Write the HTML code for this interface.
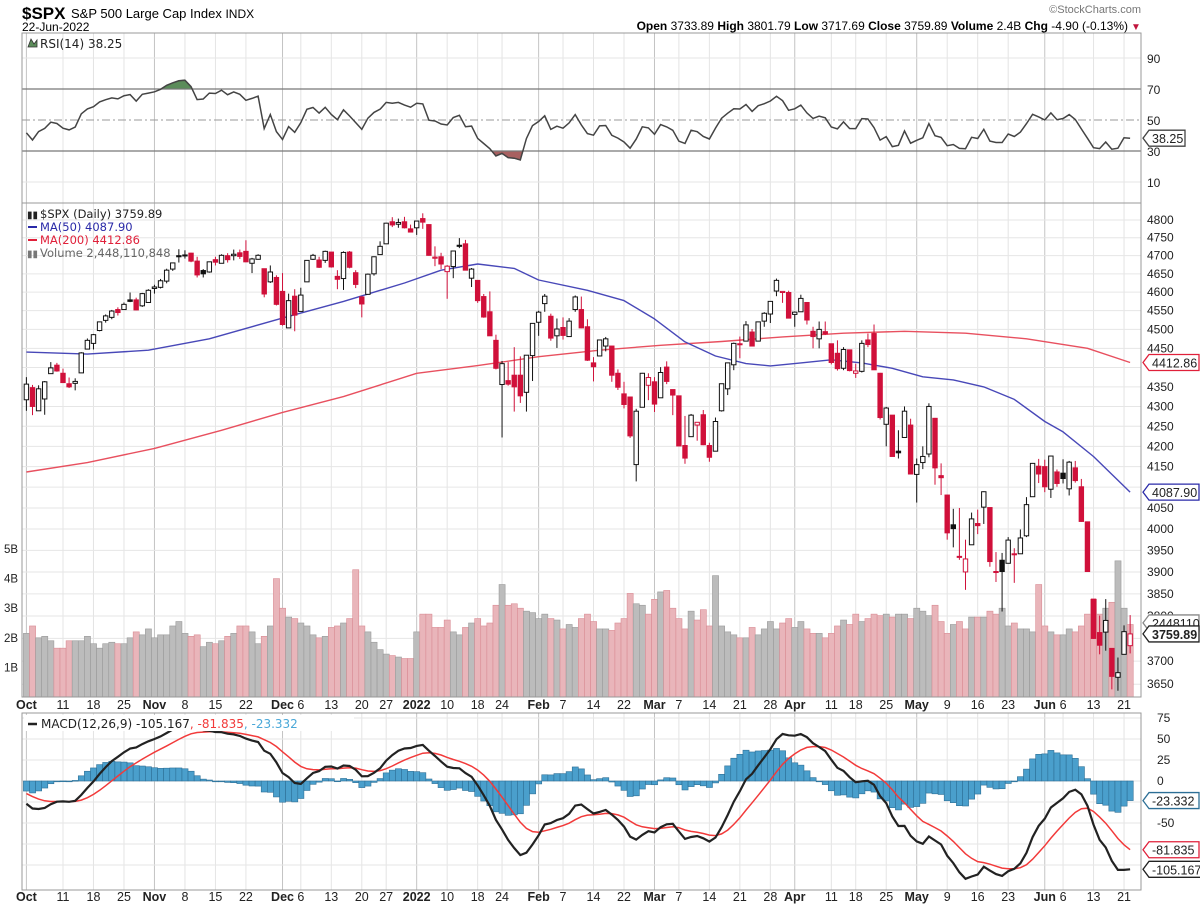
<!DOCTYPE html>
<html><head><meta charset="utf-8">
<style>
html,body{margin:0;padding:0;background:#fff;}
svg{display:block;font-family:"Liberation Sans",Arial,sans-serif;}
.mono{font-family:"DejaVu Sans","Liberation Sans",sans-serif;}
</style></head>
<body>
<svg id="chart" width="1200" height="908" viewBox="0 0 1200 908" xmlns="http://www.w3.org/2000/svg">
  <g>
    <text x="22" y="19" font-size="17" font-weight="bold">$SPX</text>
    <text x="71" y="18" font-size="13">S&amp;P 500 Large Cap Index <tspan font-size="12">INDX</tspan></text>
    <text x="22" y="31" font-size="12">22-Jun-2022</text>
    <text x="1141" y="13" font-size="11" fill="#777" text-anchor="end">©StockCharts.com</text>
    <text x="1128" y="30" font-size="12" text-anchor="end"><tspan font-weight="bold">Open</tspan> 3733.89 <tspan font-weight="bold">High</tspan> 3801.79 <tspan font-weight="bold">Low</tspan> 3717.69 <tspan font-weight="bold">Close</tspan> 3759.89 <tspan font-weight="bold">Volume</tspan> 2.4B <tspan font-weight="bold">Chg</tspan> -4.90 (-0.13%)</text>
    <text x="1131" y="30" font-size="10" fill="#c0143c">▼</text>
  </g>
  <g id="grid"></g>
  <g id="rsi"></g>
  <g id="price"></g>
  <g id="macd"></g>
  <g id="axes"></g>
</svg>
<script>
// ---------- DATA ----------
const prevClose = 4308;
const closes = [
4357,4300,4345,4363,4399,4391,4361,4350,4364,4438,4471,4486,4520,4536,4549,4545,4567,4575,4552,4596,4605,
4614,4631,4660,4680,4697,4702,4685,4647,4650,4683,4682,4701,4689,4704,4698,4683,4691,4701,4595,4655,4567,
4513,4577,4538,4592,4687,4701,4668,4712,4669,4635,4709,4668,4621,4568,4649,4697,4726,4791,4786,4793,4778,4766,
4797,4794,4701,4696,4677,4671,4713,4726,4660,4663,4577,4533,4483,4398,4410,4357,4350,4327,4432,4516,
4546,4589,4477,4501,4484,4522,4587,4504,4419,4402,4472,4475,4380,4349,4305,4226,4288,4385,4374,
4306,4387,4364,4329,4201,4171,4278,4260,4204,4173,4262,4358,4412,4463,4461,4512,4456,4520,4543,4575,4632,4602,4530,
4546,4583,4525,4481,4500,4488,4413,4397,4447,4392,4391,4463,4460,4394,4272,4296,4175,4184,4288,4132,
4155,4175,4300,4147,4123,3991,4001,3935,3930,4024,4008,4089,3924,3901,3901,3974,3941,3979,4058,4158,4132,
4101,4176,4109,4121,4161,4116,4018,3901,3750,3735,3790,3667,3675,3765,3760];
const opens = [
4317,4348,4289,4319,4384,4406,4385,4358,4359,4386,4448,4463,4497,4524,4532,4553,4553,4579,4579,4563,4572,
4610,4613,4630,4663,4700,4701,4707,4685,4659,4655,4689,4679,4700,4700,4708,4712,4679,4690,4664,4628,4640,
4602,4504,4589,4548,4628,4690,4688,4687,4710,4643,4637,4710,4653,4587,4594,4650,4703,4733,4795,4788,4795,4775,
4778,4804,4787,4693,4697,4656,4670,4729,4733,4638,4632,4588,4547,4471,4356,4366,4380,4380,4336,4431,
4519,4569,4535,4483,4505,4481,4553,4553,4507,4412,4430,4456,4456,4385,4332,4324,4155,4298,4354,
4363,4322,4401,4343,4327,4202,4224,4253,4279,4202,4188,4289,4345,4407,4462,4469,4493,4469,4522,4541,4603,4599,4599,
4540,4547,4572,4495,4475,4494,4462,4437,4398,4446,4385,4390,4472,4489,4385,4255,4278,4188,4222,4253,
4131,4160,4181,4270,4128,4081,4010,3936,3900,3963,4013,4052,4051,3900,3927,3920,3942,3942,3984,4077,4151,
4150,4095,4137,4134,4096,4147,4101,4017,3838,3763,3764,3728,3665,3715,3734];
const highs = [
4375,4355,4354,4365,4414,4412,4397,4374,4372,4440,4476,4488,4520,4540,4552,4559,4572,4599,4585,4598,4608,
4620,4636,4664,4681,4718,4715,4708,4697,4663,4684,4697,4704,4707,4717,4717,4743,4694,4704,4664,4673,4646,
4652,4596,4608,4612,4688,4705,4697,4714,4710,4660,4712,4713,4660,4589,4651,4698,4740,4792,4808,4804,4809,4787,
4797,4819,4788,4726,4708,4674,4714,4749,4744,4666,4632,4595,4602,4486,4417,4414,4453,4429,4432,4517,
4550,4595,4542,4529,4532,4530,4591,4588,4527,4427,4473,4480,4456,4395,4363,4324,4294,4386,4385,
4375,4401,4416,4343,4327,4276,4281,4259,4291,4209,4272,4358,4412,4465,4481,4522,4501,4520,4546,4575,4637,4603,4604,
4548,4593,4572,4507,4521,4521,4462,4471,4453,4446,4410,4471,4489,4513,4386,4299,4278,4240,4300,4269,
4170,4200,4308,4271,4158,4082,4048,4050,3975,4039,4046,4090,4046,3946,3944,3981,3955,3999,4076,4159,4169,
4167,4177,4143,4168,4164,4164,4120,4017,3838,3801,3838,3728,3708,3779,3802];
const lows = [
4289,4278,4289,4279,4384,4389,4360,4347,4341,4386,4447,4447,4495,4518,4527,4537,4553,4573,4551,4560,4572,
4596,4610,4624,4658,4681,4692,4682,4640,4640,4653,4673,4679,4681,4687,4691,4682,4652,4689,4586,4625,4564,
4510,4504,4495,4548,4628,4688,4666,4680,4667,4608,4606,4665,4611,4532,4594,4645,4703,4733,4780,4778,4776,4765,
4758,4775,4700,4671,4663,4582,4638,4721,4660,4614,4571,4531,4483,4395,4222,4353,4287,4309,4287,4365,
4483,4547,4470,4451,4473,4481,4547,4503,4417,4364,4430,4442,4363,4342,4295,4221,4114,4298,4316,
4286,4322,4357,4278,4200,4157,4224,4214,4203,4162,4188,4287,4329,4393,4424,4469,4455,4469,4507,4517,4589,4571,4530,
4507,4547,4513,4450,4450,4485,4408,4392,4393,4390,4373,4387,4453,4394,4267,4200,4175,4170,4222,4132,
4063,4144,4173,4106,4081,3975,3957,3928,3859,3963,3988,4012,3912,3877,3810,3920,3875,3943,3981,4077,4110,
4088,4074,4101,4109,4080,4111,4017,3901,3749,3715,3723,3639,3636,3715,3717];
const volumes = [
2.15,2.4,2.0,2.05,1.9,1.65,1.65,1.9,1.9,1.9,2.05,1.8,1.65,1.8,1.85,1.8,1.8,2.0,2.2,2.1,2.3,
2.0,2.1,2.1,2.4,2.55,2.15,2.05,2.1,1.7,1.85,1.8,1.9,2.05,2.15,2.4,2.4,2.2,1.8,2.05,2.4,4.0,
3.0,2.7,2.65,2.5,2.4,2.1,2.0,2.05,2.35,2.4,2.5,2.65,4.3,2.4,2.2,1.85,1.6,1.45,1.4,1.35,1.3,1.3,
2.2,2.8,2.8,2.35,2.35,2.6,2.2,2.1,2.35,2.5,2.65,2.4,2.5,3.1,3.8,3.1,3.15,3.0,2.9,2.85,
2.65,2.8,2.65,2.6,2.3,2.45,2.35,2.65,2.8,2.55,2.3,2.3,2.25,2.5,2.65,3.5,3.15,3.1,2.8,
3.3,3.55,3.6,3.0,2.65,2.3,2.9,2.6,2.95,2.4,4.1,2.4,2.2,2.1,2.0,2.0,2.35,2.1,2.3,2.55,2.3,2.5,2.65,
2.35,2.55,2.3,2.15,2.15,2.0,2.15,2.4,2.6,2.45,2.8,2.55,2.65,2.8,2.75,2.8,2.7,2.8,2.8,2.65,
3.0,2.9,2.75,3.1,2.55,2.15,2.45,2.55,2.3,2.7,2.7,2.7,2.9,2.8,3.0,2.4,2.5,2.3,2.3,2.2,3.8,
2.4,2.2,2.1,2.1,2.3,2.2,2.4,2.8,3.3,2.8,3.0,3.2,4.6,3.0,2.45];
// moving averages sampled from chart (trading-day index, value)
const ma50Idx = [0,10,20,30,42,52,62,68,74,80,84,92,98,103,108,113,118,122,127,132,137,142,147,152,157,162,167,170,175,181];
const ma50Val = [4440,4435,4445,4475,4530,4575,4625,4660,4677,4665,4633,4605,4577,4528,4467,4430,4410,4404,4412,4420,4412,4398,4376,4368,4350,4318,4262,4236,4175,4088];
const ma200Idx = [0,10,21,32,42,52,64,74,84,94,104,114,124,134,144,154,164,174,181];
const ma200Val = [4137,4160,4195,4240,4285,4325,4385,4405,4428,4445,4458,4468,4480,4490,4495,4490,4475,4450,4413];
// indicator seeds (values prior to Oct 1, 2021)
const rsiSeedGain = 12, rsiSeedLoss = 22;
const ema12Seed = 4405, ema26Seed = 4430, signalSeed = -12;
const holidays = ["2021-11-25","2021-12-24","2022-01-17","2022-02-21","2022-04-15","2022-05-30","2022-06-20"];
const priceTicks = [3650,3700,3750,3800,3850,3900,3950,4000,4050,4100,4150,4200,4250,4300,4350,4400,4450,4500,4550,4600,4650,4700,4750,4800];
const volTicks = [1,2,3,4,5];
const volTickLabels = ["1B","2B","3B","4B","5B"];
const rsiTicks = [90,70,50,30,10];
const macdTicks = [75,50,25,0,-25,-50,-75,-100];
const legendPrice = ["$SPX (Daily) 3759.89","MA(50) 4087.90","MA(200) 4412.86","Volume 2,448,110,848"];
const tagLabels = {rsi:"38.25", ma200:"4412.86", ma50:"4087.90", vol:"2448110", close:"3759.89", hist:"-23.332", sig:"-81.835", macd:"-105.167"};

// ---------- SCALES ----------
const NS="http://www.w3.org/2000/svg";
const PL=22, PR=1141;
const X0=26.4, DX=6.098;
const x = i => X0 + DX*i;
const LN4800 = Math.log(4800);
const py = p => 220 + (LN4800 - Math.log(p))*1695;
const vy = v => 697 - v*29.6;
const ry = v => 120 - (v-50)*1.55;
const my = v => 781 - v*0.84;

function el(tag, attrs, parent, text){
  const e=document.createElementNS(NS,tag);
  for(const k in attrs) e.setAttribute(k,attrs[k]);
  if(text!==undefined) e.textContent=text;
  parent.appendChild(e); return e;
}
const G=id=>document.getElementById(id);
const grid=G('grid'), rsiG=G('rsi'), priceG=G('price'), macdG=G('macd'), axes=G('axes');

// trading dates
const dates=[];
{
  let d=new Date(Date.UTC(2021,9,1));
  const end=new Date(Date.UTC(2022,5,22));
  while(d<=end){
    const wd=d.getUTCDay(), s=d.toISOString().slice(0,10);
    if(wd>0&&wd<6&&!holidays.includes(s)) dates.push(new Date(d));
    d=new Date(d.getTime()+86400000);
  }
}
const MON=["Jan","Feb","Mar","Apr","May","Jun","Jul","Aug","Sep","Oct","Nov","Dec"];
const labels=[];
const monthStarts=[];
dates.forEach((d,i)=>{ if(i===0||d.getUTCMonth()!==dates[i-1].getUTCMonth()) monthStarts.push(i); });
dates.forEach((d,i)=>{
  if(monthStarts.includes(i)){
    labels.push({i,t:d.getUTCMonth()===0?String(d.getUTCFullYear()):MON[d.getUTCMonth()],bold:true});
  } else {
    const weekStart = i>0 && (d.getUTCDay()<=dates[i-1].getUTCDay() || (d-dates[i-1])>3*86400000);
    if(weekStart && !monthStarts.some(m=>Math.abs(m-i)<3)) labels.push({i,t:String(d.getUTCDate()),bold:false});
  }
});

// ---------- GRID ----------
const panels=[[33,203],[203,697],[713,890]];
labels.forEach(l=>{
  panels.forEach(([a,b])=>{
    const ln=el('line',{x1:x(l.i),x2:x(l.i),y1:a,y2:b,stroke:l.bold?'#c4c4c4':'#e4e4e4','stroke-width':1},grid);
    
    
  });
});
priceTicks.forEach(p=>{
  const ln=el('line',{x1:PL,x2:PR,y1:py(p),y2:py(p),stroke:'#e6e6e6'},grid);
  
  
});
[90,10].forEach(v=>{
  const ln=el('line',{x1:PL,x2:PR,y1:ry(v),y2:ry(v),stroke:'#e6e6e6'},grid);
  
  
});
macdTicks.forEach(v=>{
  const ln=el('line',{x1:PL,x2:PR,y1:my(v),y2:my(v),stroke:'#e6e6e6'},grid);
  
  
});

// ---------- RSI ----------
const rsi=[];
{
  let ag=rsiSeedGain, al=rsiSeedLoss, pc=prevClose;
  closes.forEach(c=>{
    const d=c-pc; ag=(ag*13+Math.max(d,0))/14; al=(al*13+Math.max(-d,0))/14;
    rsi.push(100-100/(1+ag/al)); pc=c;
  });
}
{
  const defs=el('defs',{},rsiG);
  const c1=el('clipPath',{id:'above70'},defs); el('rect',{x:PL,y:33,width:PR-PL,height:ry(70)-33},c1);
  const c2=el('clipPath',{id:'below30'},defs); el('rect',{x:PL,y:ry(30),width:PR-PL,height:203-ry(30)},c2);
  const pts=rsi.map((v,i)=>x(i).toFixed(1)+','+ry(v).toFixed(1)).join(' ');
  const f1=el('polygon',{points:x(0)+','+ry(70)+' '+pts+' '+x(rsi.length-1)+','+ry(70),fill:'#5b8c5a',stroke:'#3d6b3d','clip-path':'url(#above70)'},rsiG);
  
  
  const f2=el('polygon',{points:x(0)+','+ry(30)+' '+pts+' '+x(rsi.length-1)+','+ry(30),fill:'#a86060',stroke:'#804040','clip-path':'url(#below30)'},rsiG);
  
  
  [[70,'none'],[30,'none'],[50,'8,3,2,3']].forEach(([v,da])=>{
    const ln=el('line',{x1:PL,x2:PR,y1:ry(v),y2:ry(v),stroke:v===50?'#999':'#777','stroke-width':v===50?1:1.3,'stroke-dasharray':da},rsiG);
    
    
  });
  const line=el('polyline',{points:pts,fill:'none',stroke:'#444','stroke-width':1.5},rsiG);
  
  
  const lg=el('text',{x:40,y:48,'font-size':12,class:'mono',fill:'#222'},rsiG,'RSI(14) '+tagLabels.rsi);
  
  
  const ic=el('polygon',{points:'28,47 31,39 34,44 37,40 37,47',fill:'#5b8c5a',stroke:'#333','stroke-width':0.8},rsiG);
  
  
}

// ---------- PRICE + VOLUME ----------
{
  const defs=el('defs',{},priceG);
  const cp=el('clipPath',{id:'pclip'},defs); el('rect',{x:PL,y:203,width:PR-PL,height:494},cp);
  const vg=el('g',{'clip-path':'url(#pclip)'},priceG);
  volumes.forEach((v,i)=>{
    const down = closes[i] < (i?closes[i-1]:prevClose);
    const r=el('rect',{x:x(i)-3,y:vy(v),width:DX,height:697-vy(v),fill:down?'#e9b5ba':'#bcbcbc',stroke:down?'#d98c94':'#9a9a9a','stroke-width':0.6},vg);
    
    
  });
  const ma=(idx,val,color,name)=>{
    const l=el('polyline',{points:idx.map((k,j)=>x(k).toFixed(1)+','+py(val[j]).toFixed(1)).join(' '),fill:'none',stroke:color,'stroke-width':1.4,'stroke-linejoin':'round'},vg);
    
    
  };
  ma(ma200Idx,ma200Val,'#e8505f','ma200-line');
  ma(ma50Idx,ma50Val,'#4848b8','ma50-line');
  closes.forEach((c,i)=>{
    const o=opens[i], pc=i?closes[i-1]:prevClose;
    const col = c<pc ? '#d0103a' : '#111';
    const hollow = c>=o;
    const g=el('g',{},vg);
    
    
    el('line',{x1:x(i),x2:x(i),y1:py(highs[i]),y2:py(lows[i]),stroke:col,'stroke-width':1},g);
    const top=py(Math.max(o,c)), bot=py(Math.min(o,c));
    el('rect',{x:x(i)-2.2,y:top,width:4.4,height:Math.max(bot-top,1),fill:hollow?'#fff':col,stroke:col,'stroke-width':1},g);
  });
  const lgs=[[legendPrice[0],'#222'],[legendPrice[1],'#2a2aa8'],[legendPrice[2],'#e0203a'],[legendPrice[3],'#666']];
  lgs.forEach(([t,c],k)=>{
    const tx=el('text',{x:40,y:218+k*13,'font-size':11.5,class:'mono',fill:c},priceG,t);
    
    
  });
  el('line',{x1:28,x2:37,y1:227,y2:227,stroke:'#2a2aa8','stroke-width':2},priceG);
  el('line',{x1:28,x2:37,y1:240,y2:240,stroke:'#e0203a','stroke-width':2},priceG);
  el('text',{x:27,y:218,'font-size':10,fill:'#222'},priceG,'▮▮');
  el('text',{x:27,y:257,'font-size':10,fill:'#777'},priceG,'▮▮');
  volTicks.forEach((v,k)=>{
    const t=el('text',{x:4,y:vy(v)+4,'font-size':11.5,fill:'#222'},priceG,volTickLabels[k]);
    
    
  });
}

// ---------- MACD ----------
const macd=[], signal=[], hist=[];
{
  let e12=ema12Seed,e26=ema26Seed,s=signalSeed;
  closes.forEach(c=>{
    e12+= (c-e12)*2/13; e26+=(c-e26)*2/27;
    const m=e12-e26; s+=(m-s)*0.2;
    macd.push(m); signal.push(s); hist.push(m-s);
  });
}
{
  hist.forEach((h,i)=>{
    const y0=my(0), y1=my(h);
    const r=el('rect',{x:x(i)-3,y:Math.min(y0,y1),width:DX,height:Math.max(Math.abs(y1-y0),0.8),fill:'#4a9fcc',stroke:'#2d6f96','stroke-width':0.6},macdG);
    
    
  });
  const sl=el('polyline',{points:signal.map((v,i)=>x(i).toFixed(1)+','+my(v).toFixed(1)).join(' '),fill:'none',stroke:'#f23a3a','stroke-width':1.5},macdG);
  
  
  const ml=el('polyline',{points:macd.map((v,i)=>x(i).toFixed(1)+','+my(v).toFixed(1)).join(' '),fill:'none',stroke:'#222','stroke-width':2.2},macdG);
  
  
  el('rect',{x:24,y:715,width:330,height:16,fill:'#fff'},macdG);
  el('line',{x1:28,x2:37,y1:724,y2:724,stroke:'#222','stroke-width':2.5},macdG);
  const t=el('text',{x:41,y:728,'font-size':12,class:'mono',fill:'#222'},macdG);
  
  
  el('tspan',{},t,'MACD(12,26,9) '+tagLabels.macd);
  el('tspan',{fill:'#f23a3a'},t,', '+tagLabels.sig);
  el('tspan',{fill:'#4aa8d8'},t,', '+tagLabels.hist);
}

// ---------- AXES / FRAMES ----------
[[33,203],[203,697],[713,890]].forEach(([a,b])=>{
  const r=el('rect',{x:PL,y:a,width:PR-PL,height:b-a,fill:'none',stroke:'#999','stroke-width':1},axes);
  
  
});
[[704],[896]].forEach(([yy])=>{
  labels.forEach(l=>{
    const t=el('text',{x:x(l.i),y:yy+5,'font-size':12.5,'font-weight':l.bold?'bold':'normal','text-anchor':'middle',fill:'#222'},axes,l.t);
    
    
  });
});
rsiTicks.forEach(v=>{
  const t=el('text',{x:1147,y:ry(v)+5,'font-size':12,fill:'#222'},axes,String(v));
  
  
});
priceTicks.forEach(p=>{
  if(p===4100||p===4400) return;
  const t=el('text',{x:1147,y:py(p)+4,'font-size':12,fill:'#222'},axes,String(p));
  
  
});
macdTicks.forEach(v=>{
  if(v===-100||v===-75||v===-25) return;
  const t=el('text',{x:1157,y:my(v)+4,'font-size':12,fill:'#222'},axes,String(v));
  
  
});
function tag(yv,text,color,name,w,bold){
  const g=el('g',{},axes);
  
  
  const x0=1143, ww=w||50;
  el('polygon',{points:`${x0},${yv} ${x0+6},${yv-8} ${x0+6+ww},${yv-8} ${x0+6+ww},${yv+8} ${x0+6},${yv+8}`,fill:'#fff',stroke:color,'stroke-width':1.3},g);
  el('text',{x:x0+9,y:yv+5,'font-size':12.5,'font-weight':bold?'bold':'normal',fill:'#222'},g,text);
}
tag(ry(rsi[rsi.length-1]),tagLabels.rsi,'#444','rsi-value-tag',36);
tag(py(ma200Val[ma200Val.length-1]),tagLabels.ma200,'#e0203a','ma200-value-tag',50);
tag(py(ma50Val[ma50Val.length-1]),tagLabels.ma50,'#2a2aa8','ma50-value-tag',50);
tag(py(closes[closes.length-1])-11,tagLabels.vol,'#888','volume-value-tag',50);
tag(py(closes[closes.length-1]),tagLabels.close,'#222','close-value-tag',50,true);
tag(my(hist[hist.length-1]),tagLabels.hist,'#2d6f96','histogram-value-tag',50);
tag(my(signal[signal.length-1]),tagLabels.sig,'#e0203a','signal-value-tag',50);
tag(my(macd[macd.length-1]),tagLabels.macd,'#222','macd-value-tag',54);
</script>
</body></html>
